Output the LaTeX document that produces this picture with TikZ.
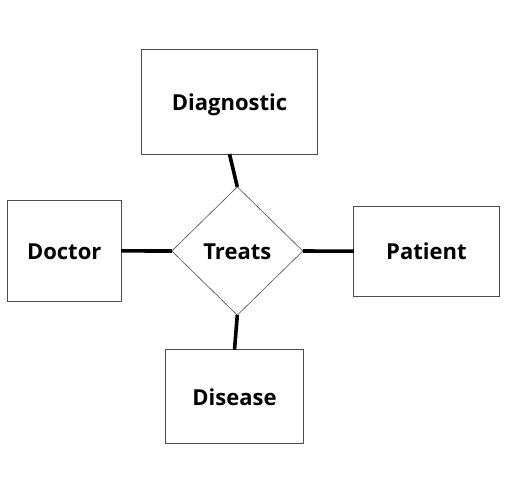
\documentclass[tikz,border=0pt]{standalone}
\usepackage{fontspec}
\setmainfont{Open Sans}
\usetikzlibrary{shapes.geometric}
\tikzset{
  entity/.style={draw=black!70, line width=0.8pt, inner sep=0pt, outer sep=0pt, text height=17.5pt, text depth=0pt, font=\fontsize{22}{26}\selectfont\bfseries},
  relation/.style={diamond, draw=black!70, line width=0.6pt, inner sep=0pt, outer sep=0pt, text height=16pt, text depth=0pt, font=\fontsize{22}{26}\selectfont\bfseries},
  link/.style={line width=3.6pt}
}
\begin{document}
\begin{tikzpicture}[x=1pt,y=-1pt]
            \useasboundingbox (0,0) rectangle (517,490);
            \node [relation, minimum width=131pt, minimum height=128.3pt] (treats) at (237.3,251) {Treats};
            \node [entity, minimum width=176.4pt, minimum height=104.7pt] (diag) at (229.5,101.7) {Diagnostic};
            \node [entity, minimum width=113.7pt, minimum height=100.3pt] (doctor) at (64.2,250.9) {Doctor};
            \node [entity, minimum width=145.3pt, minimum height=89.7pt] (patient) at (426.4,251.2) {Patient};
            \node [entity, minimum width=137.6pt, minimum height=93.3pt] (disease) at (234.5,396.4) {Disease};
            \draw [link] (diag.south) -- (treats.north);
            \draw [link] (doctor.east) -- (treats.west);
            \draw [link] (treats.east) -- (patient.west);
            \draw [link] (treats.south) -- (disease.north);%liens vers le losange
        \end{tikzpicture}
\end{document}
